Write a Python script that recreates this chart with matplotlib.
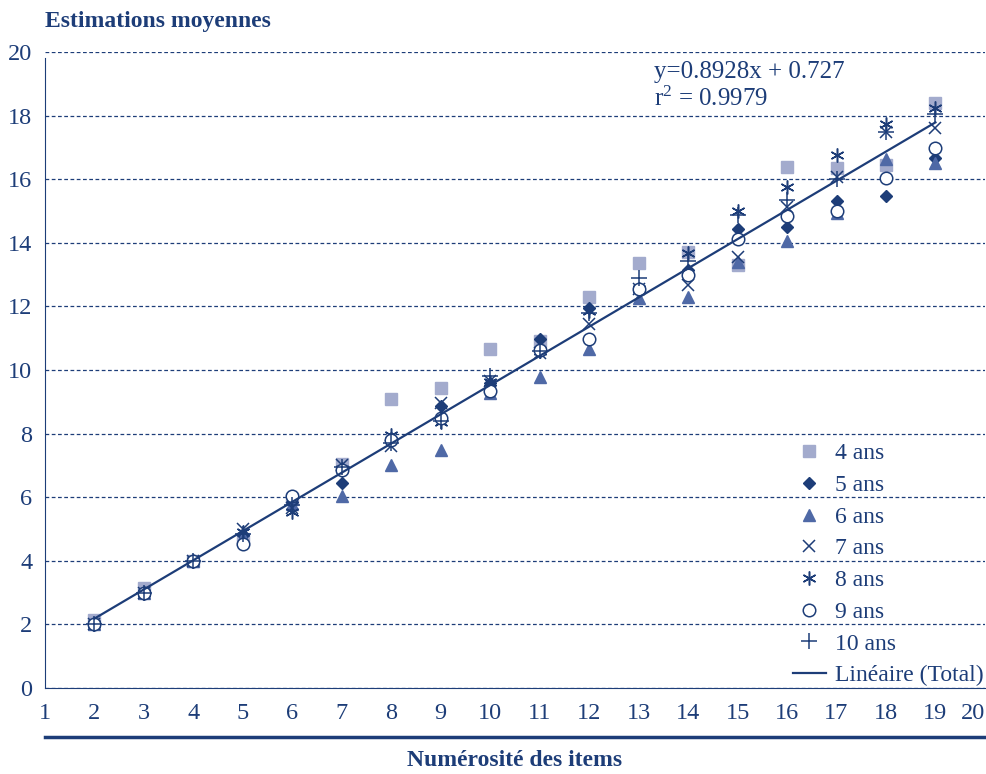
import matplotlib
matplotlib.use("Agg")
import matplotlib.pyplot as plt
import numpy as np

plt.rcParams['font.family'] = ['Liberation Serif', 'DejaVu Serif']
plt.rcParams['mathtext.fontset'] = 'custom'
plt.rcParams['mathtext.rm'] = 'Liberation Serif'
plt.rcParams['mathtext.it'] = 'Liberation Serif'

# numerosity of the items
items = [2, 3, 4, 5, 6, 7, 8, 9, 10, 11, 12, 13, 14, 15, 16, 17, 18, 19]

# mean estimations by age group
ans4 = [2.15, 3.15, 4.0, 4.7, 5.95, 7.05, 9.1, 9.43, 10.65, 10.9, 12.3, 13.36, 13.7, 13.3, 16.38, 16.35, 16.45, 18.4]
ans5 = [2.0, 3.0, 4.0, 4.8, 5.85, 6.45, 7.85, 8.87, 9.6, 10.97, 11.95, 12.55, 13.15, 14.45, 14.5, 15.3, 15.47, 16.68]
ans6 = [2.0, 3.0, 4.0, 4.75, 5.8, 6.05, 7.0, 7.48, 9.27, 9.77, 10.65, 12.26, 12.3, 13.4, 14.05, 14.93, 16.63, 16.52]
ans7 = [2.0, 3.0, 4.0, 5.0, 5.65, 7.0, 7.6, 8.95, 9.65, 10.55, 11.45, 12.55, 12.67, 13.55, 15.13, 16.07, 17.5, 17.6]
ans8 = [2.0, 3.0, 4.0, 4.9, 5.55, 6.9, 7.95, 8.35, 9.63, 10.6, 11.85, 12.55, 13.68, 15.0, 15.75, 16.76, 17.75, 18.25]
ans9 = [2.0, 3.0, 4.0, 4.52, 6.03, 6.85, 7.8, 8.49, 9.35, 10.63, 10.97, 12.55, 12.99, 14.12, 14.84, 15.0, 16.04, 16.98]
ans10 = [2.0, 3.0, 4.0, 4.85, 5.75, 6.95, 7.7, 8.4, 9.8, 10.6, 11.8, 12.9, 13.43, 14.87, 15.34, 16.0, 17.5, 18.05]

labels = ["4 ans", "5 ans", "6 ans", "7 ans", "8 ans", "9 ans", "10 ans"]
equation = "y=0.8928x + 0.727\nr$^{2}$ = 0.9979"

navy = "#1d3d78"
light = "#a3abcd"
mid = "#4f69a6"

fig = plt.figure(figsize=(9.86, 7.74), dpi=100)
ax = fig.add_axes([0.0456, 0.1111, 0.9533, 0.8217])

series = [ans4, ans5, ans6, ans7, ans8, ans9, ans10]
styles = [
    dict(marker='s', color=light, ms=8, mec=light),
    dict(marker='D', color=navy, ms=6, mec=navy),
    dict(marker='^', color=mid, ms=8, mec=mid),
    dict(marker='x', color=navy, ms=9, mew=1.1),
    dict(marker=(6, 2, 0), color=navy, ms=10, mew=1.1),
    dict(marker='o', color=navy, ms=9, mfc='white', mew=1.1),
    dict(marker='+', color=navy, ms=11, mew=1.1),
]
for vals, st, lab in zip(series, styles, labels):
    ax.plot(items, vals, ls='none', label=lab, **st)

# linear trend over all points
allx = np.tile(items, len(series))
ally = np.concatenate(series)
a, b = np.polyfit(allx, ally, 1)
xs = np.array([items[0], items[-1]])
ax.plot(xs, a * xs + b, color=navy, lw=1.6, label="Linéaire (Total)")

ax.set_xlim(1, 20)
ax.set_ylim(0, 20)
ax.set_xticks(range(1, 21))
ax.set_yticks(range(0, 21, 2))
ax.yaxis.grid(True, ls=(0, (3, 2)), color=navy, lw=0.9)
ax.set_axisbelow(True)
ax.tick_params(length=0, labelsize=17.5, labelcolor=navy)
ax.tick_params(axis='x', pad=11)
ax.tick_params(axis='y', pad=9)
ax.get_xticklabels()[-1].set_ha('right')
for s in ['top', 'right']:
    ax.spines[s].set_visible(False)
ax.spines['left'].set_color(navy)
ax.spines['bottom'].set_color(navy)
ax.spines['left'].set_bounds(0, 19.8)

ax.text(0.648, 0.986, equation, transform=ax.transAxes, fontsize=18,
        color=navy, va='top', ha='left', linespacing=1.2)

leg = ax.legend(loc='lower right', bbox_to_anchor=(1.009, -0.012), frameon=False,
                fontsize=17, labelcolor=navy, handlelength=1.4, handletextpad=0.4,
                labelspacing=0.43, borderaxespad=0.0)

fig.text(0.0456, 0.972, "Estimations moyennes", fontsize=17, fontweight='bold',
         color=navy, ha='left', va='center')
fig.text(0.522, 0.017, "Numérosité des items", fontsize=17, fontweight='bold',
         color=navy, ha='center', va='center')
# thick rule above the x axis title
fig.add_artist(plt.Line2D([0.0456, 1.0], [0.0478, 0.0478], color=navy, lw=2.5))

fig.savefig("out.png", dpi=100)
